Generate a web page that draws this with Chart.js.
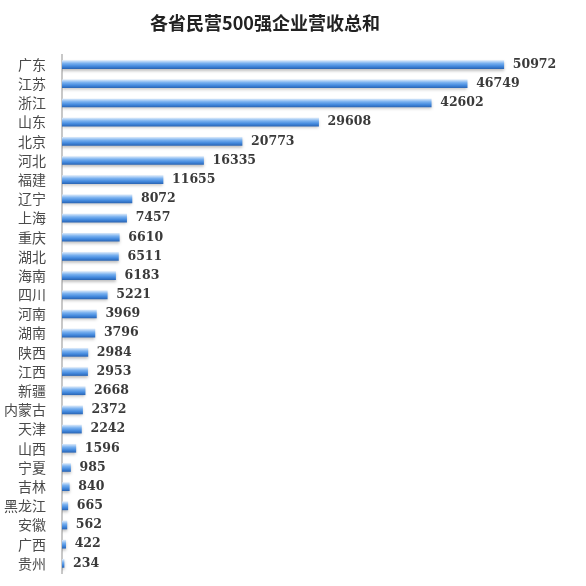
<!DOCTYPE html>
<html>
<head>
<meta charset="utf-8">
<script src="https://cdn.jsdelivr.net/npm/chart.js@4/dist/chart.umd.min.js"></script>
<style>
  body { margin: 0; background: #fff; }
</style>
</head>
<body>
<canvas id="graficoProvincias" width="586" height="586"></canvas>
<script>
const titulo = "各省民营500强企业营收总和";
const provincias = ["广东", "江苏", "浙江", "山东", "北京", "河北", "福建", "辽宁", "上海", "重庆",
  "湖北", "海南", "四川", "河南", "湖南", "陕西", "江西", "新疆", "内蒙古", "天津",
  "山西", "宁夏", "吉林", "黑龙江", "安徽", "广西", "贵州"];
const ingresos = [50972, 46749, 42602, 29608, 20773, 16335, 11655, 8072, 7457, 6610,
  6511, 6183, 5221, 3969, 3796, 2984, 2953, 2668, 2372, 2242,
  1596, 985, 840, 665, 562, 422, 234];

// titulo dibujado a mano (va algo a la izquierda del centro)
const pluginTitulo = {
  id: "titulo",
  afterDraw(chart) {
    const ctx = chart.ctx;
    ctx.save();
    ctx.font = 'bold 18px "Noto Sans CJK SC"';
    ctx.fillStyle = "#222";
    ctx.textAlign = "center";
    ctx.textBaseline = "middle";
    ctx.fillText(titulo, 265, 23);
    ctx.restore();
  },
};

// valores al final de cada barra
const pluginValores = {
  id: "valores",
  beforeDatasetsDraw(chart) {
    chart.ctx.save();
    chart.ctx.shadowColor = "rgba(0,0,0,0.25)";
    chart.ctx.shadowBlur = 3;
    chart.ctx.shadowOffsetY = 2;
  },
  afterDatasetsDraw(chart) {
    const ctx = chart.ctx;
    ctx.restore();
    ctx.save();
    ctx.font = 'bold 12.5px "DejaVu Serif"';
    ctx.fillStyle = "#3a3a3a";
    ctx.textBaseline = "middle";
    chart.getDatasetMeta(0).data.forEach((bar, i) => {
      ctx.fillText(ingresos[i], bar.x + 9, bar.y);
    });
    ctx.restore();
  },
};

const ctxProv = document.getElementById("graficoProvincias");

new Chart(ctxProv, {
  type: "bar",
  data: {
    labels: provincias,
    datasets: [
      {
        label: "营收",
        data: ingresos,
        barThickness: 8,
        backgroundColor: (c) => {
          const chart = c.chart;
          if (!chart.chartArea || c.type !== "data") return "#4a8fe0";
          const y = chart.scales.y.getPixelForValue(c.dataIndex);
          const g = chart.ctx.createLinearGradient(0, y - 4, 0, y + 4);
          g.addColorStop(0, "#d3e5f9");
          g.addColorStop(0.35, "#78b0ef");
          g.addColorStop(0.7, "#448ade");
          g.addColorStop(1, "#2c68b8");
          return g;
        },
      },
    ],
  },
  options: {
    indexAxis: "y",
    responsive: false,
    animation: false,
    layout: {
      padding: { top: 55, bottom: 13, right: 4, left: 0 },
    },
    scales: {
      x: {
        display: false,
        min: 0,
        max: 60000,
      },
      y: {
        afterFit: (scale) => {
          scale.width = 62;
          scale.paddingTop = 0;
          scale.paddingBottom = 0;
        },
        grid: { display: false },
        border: { display: true, color: "#c8c8c8", width: 2 },
        ticks: {
          autoSkip: false,
          color: "#4a4a4a",
          padding: 8,
          font: { family: '"Noto Sans CJK SC"', size: 14 },
        },
      },
    },
    plugins: {
      legend: { display: false },
      title: { display: false },
      tooltip: { enabled: false },
    },
  },
  plugins: [pluginTitulo, pluginValores],
});
</script>
</body>
</html>
